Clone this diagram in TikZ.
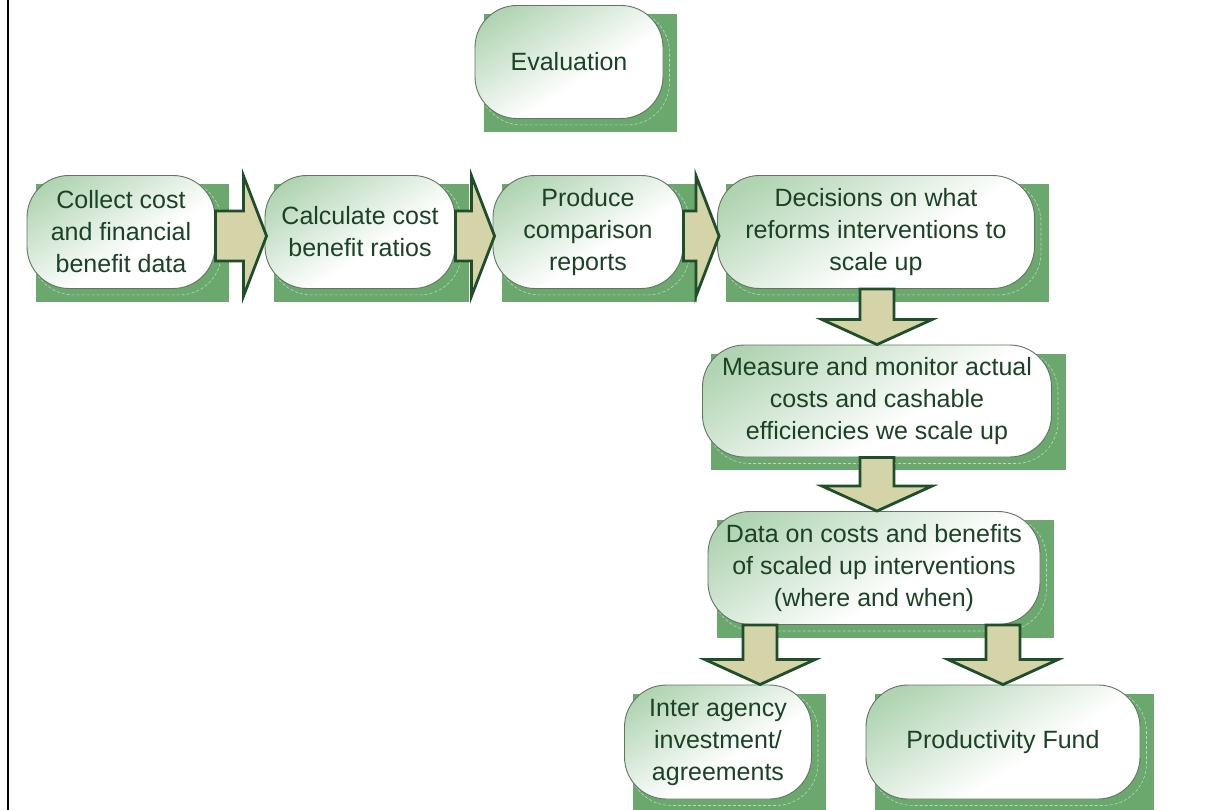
\documentclass[tikz,border=0pt]{standalone}
\usepackage{fontspec}
\setmainfont{Liberation Sans}
\usetikzlibrary{calc,backgrounds}

\definecolor{shadowgreen}{RGB}{106,168,110}
\definecolor{pillgreen}{RGB}{176,212,178}
\definecolor{pillborder}{RGB}{100,115,100}
\definecolor{arrowfill}{RGB}{212,212,168}
\definecolor{arrowline}{RGB}{30,78,42}
\definecolor{textgreen}{RGB}{28,66,38}

% pale green in the upper-left fading to white
\pgfdeclareverticalshading{pillshade}{100bp}{color(0bp)=(white); color(42bp)=(white); color(78bp)=(pillgreen); color(100bp)=(pillgreen)}

\tikzset{
  pill/.style={rectangle, rounded corners=42pt, draw=pillborder, line width=0.9pt,
    shade, shading=pillshade, shading angle=32,
    text=textgreen, align=center, inner sep=0pt,
    font=\fontsize{25}{32}\selectfont},
  blockarrow/.style={draw=arrowline, fill=arrowfill, line width=2.8pt, line join=miter},
  backdrop/.style={fill=shadowgreen},
  backdropedge/.style={draw=white!55!shadowgreen, line width=0.6pt, dashed, dash pattern=on 3pt off 2pt, rounded corners=42pt}
}

% right-pointing block arrow from node #1 to node #2
\newcommand{\rightblock}[2]{%
  \draw[blockarrow] let \p1=(#1.east), \p2=(#2.west) in
    (\x1,\y1-4pt+25pt) -- (\x2-21pt,\y1-4pt+25pt) -- (\x2-21pt,\y1-4pt+60pt)
    -- (\x2+2pt,\y1-4pt) -- (\x2-21pt,\y1-4pt-60pt) -- (\x2-21pt,\y1-4pt-25pt)
    -- (\x1,\y1-4pt-25pt) -- cycle;}

% down-pointing block arrow from node #1 to node #2 along x = #3
\newcommand{\downblock}[3]{%
  \draw[blockarrow] let \p1=(#1.south), \p2=(#2.north), \p3=(#3,0) in
    (\x3-17pt,\y1) -- (\x3+17pt,\y1) -- (\x3+17pt,\y2+25pt) -- (\x3+55pt,\y2+25pt)
    -- (\x3,\y2) -- (\x3-55pt,\y2+25pt) -- (\x3-17pt,\y2+25pt) -- cycle;}

\begin{document}
\begin{tikzpicture}[x=1pt,y=-1pt]
  \useasboundingbox (0,0) rectangle (1210,810);

  % left rule
  \draw[black, line width=2pt] (8,0) -- (8,810);

  % process boxes
  \node[pill, minimum width=188pt, minimum height=113pt] (eval) at (569,62) {Evaluation};
  \node[pill, minimum width=188pt, minimum height=113pt] (collect) at (121,232) {Collect cost\\and financial\\benefit data};
  \node[pill, minimum width=190pt, minimum height=113pt] (calc) at (360,232) {Calculate cost\\benefit ratios};
  \node[pill, minimum width=190pt, minimum height=113pt] (produce) at (588,232) {Produce\\comparison\\reports};
  \node[pill, minimum width=317pt, minimum height=113pt] (decide) at (876,232) {Decisions on what\\reforms interventions to\\scale up};
  \node[pill, minimum width=349pt, minimum height=112pt] (measure) at (877,401) {Measure and monitor actual\\costs and cashable\\efficiencies we scale up};
  \node[pill, minimum width=332pt, minimum height=113pt] (data) at (874,568) {Data on costs and benefits\\of scaled up interventions\\(where and when)};
  \node[pill, minimum width=187pt, minimum height=114pt] (agency) at (718,742) {Inter agency\\investment/\\agreements};
  \node[pill, minimum width=274pt, minimum height=114pt] (fund) at (1003,742) {Productivity Fund};

  % green backdrops behind each box, with a faint dashed outline
  \begin{pgfonlayer}{background}
    \fill[white] (0,0) rectangle (1210,810);
    \draw[black, line width=2pt] (8,0) -- (8,810);
    \foreach \n in {eval,collect,calc,produce,decide,measure,data,agency,fund} {
      \fill[backdrop] ([shift={(9pt,-9pt)}]\n.north west) rectangle ([shift={(14pt,-13pt)}]\n.south east);
      \draw[backdropedge] ([shift={(5pt,-5pt)}]\n.north west) rectangle ([shift={(6pt,-6pt)}]\n.south east);
    }
  \end{pgfonlayer}

  % flow arrows
  \rightblock{collect}{calc}
  \rightblock{calc}{produce}
  \rightblock{produce}{decide}
  \downblock{decide}{measure}{877}
  \downblock{measure}{data}{877}
  \downblock{data}{agency}{760}
  \downblock{data}{fund}{1003}
\end{tikzpicture}
\end{document}
